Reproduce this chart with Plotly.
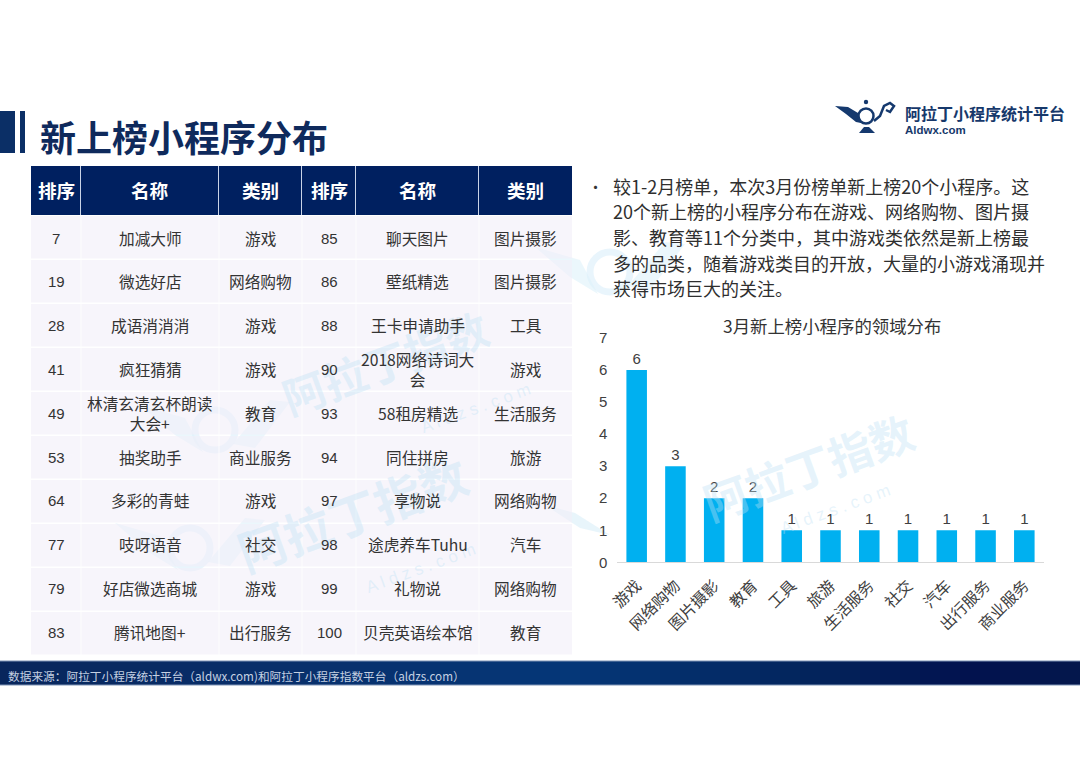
import plotly.graph_objects as go

W, H = 1080, 764
CJK = "Noto Sans CJK SC"
LATIN = "Liberation Sans, Noto Sans CJK SC"

# bar chart data
categories = ["游戏", "网络购物", "图片摄影", "教育", "工具", "旅游", "生活服务", "社交", "汽车", "出行服务", "商业服务"]
counts = [6, 3, 2, 2, 1, 1, 1, 1, 1, 1, 1]

# table data
header = ["排序", "名称", "类别", "排序", "名称", "类别"]
rank_left = [7, 19, 28, 41, 49, 53, 64, 77, 79, 83]
name_left = ["加减大师", "微选好店", "成语消消消", "疯狂猜猜", "林清玄清玄杯朗读<br>大会+", "抽奖助手",
             "多彩的青蛙", "吱呀语音", "好店微选商城", "腾讯地图+"]
type_left = ["游戏", "网络购物", "游戏", "游戏", "教育", "商业服务", "游戏", "社交", "游戏", "出行服务"]
rank_right = [85, 86, 88, 90, 93, 94, 97, 98, 99, 100]
name_right = ["聊天图片", "壁纸精选", "王卡申请助手", "2018网络诗词大<br>会", "58租房精选", "同住拼房",
              "享物说", "途虎养车Tuhu", "礼物说", "贝壳英语绘本馆"]
type_right = ["图片摄影", "图片摄影", "工具", "游戏", "生活服务", "旅游", "网络购物", "汽车", "网络购物", "教育"]

body_lines = [
    "较1-2月榜单，本次3月份榜单新上榜20个小程序。这",
    "20个新上榜的小程序分布在游戏、网络购物、图片摄",
    "影、教育等11个分类中，其中游戏类依然是新上榜最",
    "多的品类，随着游戏类目的开放，大量的小游戏涌现并",
    "获得市场巨大的关注。",
]


def px(x):
    return x / W


def py(y):
    return 1 - y / H


shapes = []
annotations = []


def rect(x0, y0, x1, y1, color):
    shapes.append(dict(type="rect", xref="paper", yref="paper", x0=px(x0), x1=px(x1), y0=py(y0), y1=py(y1),
                       fillcolor=color, line=dict(width=0), layer="below"))


def label(x, y, text, size, color="#3a3a3a", font=CJK, anchor="center", angle=0):
    annotations.append(dict(x=px(x), y=py(y), xref="paper", yref="paper", text=text, showarrow=False,
                            xanchor=anchor, yanchor="middle", textangle=angle,
                            font=dict(size=size, color=color, family=font)))


def path(points, color, width=0, fill=True):
    d = "M " + " L ".join(f"{px(a):.5f},{py(b):.5f}" for a, b in points)
    shapes.append(dict(type="path", xref="paper", yref="paper", path=d + (" Z" if fill else ""),
                       fillcolor=color if fill else "rgba(0,0,0,0)",
                       line=dict(width=width, color=color), layer="below"))


def circle(cx, cy, r, fill, line_color=None, width=0):
    shapes.append(dict(type="circle", xref="paper", yref="paper", x0=px(cx - r), x1=px(cx + r),
                       y0=py(cy - r), y1=py(cy + r), fillcolor=fill,
                       line=dict(width=width, color=line_color or fill), layer="below"))


# -------------------------
# watermarks
# -------------------------
WM = "rgba(190,225,245,0.38)"
for x, y, s in [(385, 361, 43), (808, 466, 44), (352, 512, 48)]:
    label(x, y, "<b>阿拉丁指数</b>", s, WM, angle=-20)
for x, y in [(475, 408), (835, 510), (420, 568)]:
    label(x, y, "A l d z s . c o m", 17, WM, LATIN, angle=-20)
for cx, cy in [(215, 430), (190, 548), (610, 272)]:
    circle(cx, cy, 20, "rgba(0,0,0,0)", "rgba(215,237,249,0.55)", 7)
    path([(cx - 75, cy - 25), (cx - 30, cy - 12), (cx - 12, cy + 22), (cx - 40, cy + 5)], "rgba(222,241,250,0.6)")
    path([(cx + 18, cy + 14), (cx + 55, cy - 30), (cx + 75, cy - 28), (cx + 40, cy + 18)], "rgba(222,241,250,0.6)")
path([(545, 505), (575, 513), (610, 535), (580, 528)], "rgba(222,241,250,0.7)")

# -------------------------
# title and logo
# -------------------------
rect(0, 111, 15, 153, "#0b2f66")
rect(20, 111, 25, 153, "#0b2f66")
label(38, 136, "<b>新上榜小程序分布</b>", 36, "#0f2a5c", anchor="left")

NAVY = "#15396e"
path([(835, 106), (848, 107), (858, 113), (866, 124), (856, 122), (846, 114)], NAVY)
circle(866, 116, 7.5, "#ffffff", NAVY, 2.5)
circle(866, 102, 2.2, NAVY)
path([(859, 133), (864, 127), (869, 127), (875, 133)], NAVY)
path([(874, 121), (880, 116), (884, 106), (890, 103), (894, 106), (890, 112), (886, 110)], NAVY, 2.5, fill=False)
label(903, 113, "<b>阿拉丁小程序统计平台</b>", 16, "#16386b", anchor="left")
label(903, 130, "<b>Aldwx.com</b>", 11.5, "#16386b", "Liberation Sans", anchor="left")

# -------------------------
# table
# -------------------------
col_edges = [31, 81, 219, 302, 356, 479, 572]
head_top, head_bottom = 166, 215
row_h = 44
rect(col_edges[0], head_top, col_edges[-1], head_bottom, "#002060")
for e in col_edges[1:-1]:
    rect(e - 1, head_top, e, head_bottom, "#c9d3e6")
for i, text in enumerate(header):
    label((col_edges[i] + col_edges[i + 1]) / 2, (head_top + head_bottom) / 2 - 1, f"<b>{text}</b>", 18.6, "#ffffff")

columns = [rank_left, name_left, type_left, rank_right, name_right, type_right]
for r in range(len(rank_left)):
    top = head_bottom + r * row_h
    rect(col_edges[0], top + 1, col_edges[-1], top + row_h - 0.5, "rgba(241,238,248,0.6)")
    for c, col in enumerate(columns):
        text = str(col[r])
        is_num = c in (0, 3)
        label((col_edges[c] + col_edges[c + 1]) / 2, 238 + r * 43.8, text, 15 if is_num else 15.7,
              "#333333", LATIN if is_num else CJK)
for e in col_edges[1:-1]:
    rect(e - 0.5, head_bottom, e + 0.5, head_bottom + row_h * len(rank_left), "rgba(255,255,255,0.8)")

# -------------------------
# bullet text
# -------------------------
label(595, 186, "•", 15, "#333333")
for i, line in enumerate(body_lines):
    label(611, 185.5 + i * 25.7, line, 18, "#2f2f2f", anchor="left")
label(832, 325, "3月新上榜小程序的领域分布", 17.4, "#333333")

# -------------------------
# footer band
# -------------------------
stops = [(0, (8, 38, 92)), (300, (8, 48, 108)), (560, (5, 55, 120)), (800, (3, 36, 92)),
         (960, (2, 18, 78)), (1080, (4, 24, 76))]
for x in range(0, W, 20):
    for (a, ca), (b, cb) in zip(stops, stops[1:]):
        if a <= x < b:
            t = (x - a) / (b - a)
            c = [round(p + (q - p) * t) for p, q in zip(ca, cb)]
            rect(x, 661, x + 20.5, 685, f"rgb({c[0]},{c[1]},{c[2]})")
            break
rect(0, 660.6, W, 661.4, "#7f93b5")
rect(0, 684.6, W, 685.4, "#7f93b5")
label(6, 675, "数据来源：阿拉丁小程序统计平台（aldwx.com)和阿拉丁小程序指数平台（aldzs.com）", 11.7, "#c4d0e2", anchor="left")

# -------------------------
# bar chart
# -------------------------
fig = go.Figure()
fig.add_trace(go.Bar(
    x=categories,
    y=counts,
    marker=dict(color="#00B0F0", line=dict(width=0)),
    width=0.53,
    text=counts,
    textposition="outside",
    cliponaxis=False,
    textfont=dict(size=15, color="#404040", family=LATIN),
    showlegend=False
))

fig.update_layout(
    width=W,
    height=H,
    margin=dict(l=0, r=0, t=0, b=0, autoexpand=False),
    paper_bgcolor="white",
    plot_bgcolor="rgba(0,0,0,0)",
    shapes=shapes,
    annotations=annotations,
    font=dict(family=CJK),
    xaxis=dict(domain=[px(617.3), px(1043.7)], tickangle=-45, showgrid=False, showline=True,
               linecolor="#d9d9d9", ticks="", ticklabelstandoff=7, tickfont=dict(size=15.7, color="#404040")),
    yaxis=dict(domain=[py(562.3), py(338)], range=[0, 7], dtick=1, showgrid=False, zeroline=False,
               ticks="", ticklabelstandoff=9, tickfont=dict(size=15, color="#404040", family=LATIN)),
)

fig.write_html("out.html", config={"displayModeBar": False}, post_script="document.body.style.margin='0';")
